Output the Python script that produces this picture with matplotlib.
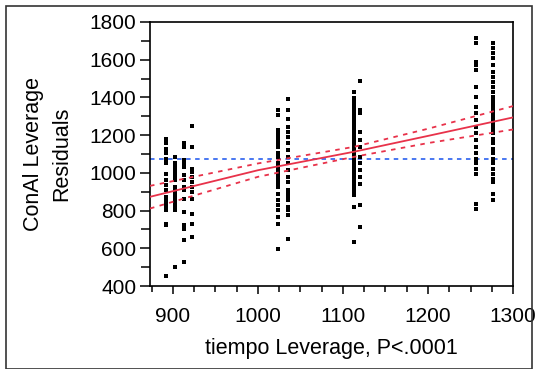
import matplotlib
matplotlib.use('Agg')
import matplotlib.pyplot as plt
import numpy as np
from matplotlib.patches import Rectangle
from matplotlib.ticker import MultipleLocator

plt.rcParams['font.family'] = ['Liberation Sans', 'DejaVu Sans']

# Leverage residuals, one column per tiempo leverage value
col_x = [892, 902, 913, 922, 1024, 1035, 1113, 1120, 1257, 1277]
col_y = [
    [1177, 1156, 1129, 1103, 1076, 1050, 996, 961, 934, 908, 873, 855, 837, 819, 802, 731, 722, 451],
    [1085, 1050, 1032, 1014, 996, 979, 961, 926, 908, 890, 873, 855, 837, 819, 802, 501],
    [1156, 1138, 1067, 1050, 1032, 988, 961, 926, 908, 864, 793, 722, 704, 642, 527],
    [1248, 1138, 1023, 1005, 979, 952, 926, 899, 864, 784, 731, 660],
    [1333, 1306, 1227, 1209, 1191, 1173, 1156, 1138, 1103, 1085, 1050, 1032, 1014, 996,
     979, 961, 943, 926, 890, 855, 828, 802, 766, 731, 598],
    [1391, 1333, 1288, 1244, 1218, 1191, 1156, 1120, 1085, 1050, 1014, 979, 952, 908,
     890, 873, 855, 819, 802, 775, 651],
    [1430, 1395, 1377, 1359, 1342, 1324, 1306, 1288, 1271, 1253, 1235, 1218, 1200, 1182,
     1165, 1147, 1129, 1112, 1094, 1076, 1058, 1041, 1023, 1005, 988, 970, 952, 934, 917,
     899, 881, 819, 634],
    [1487, 1333, 1315, 1218, 1173, 1138, 1085, 1050, 1014, 979, 943, 828, 713],
    [1713, 1687, 1589, 1572, 1545, 1457, 1404, 1350, 1315, 1280, 1244, 1209, 1173, 1138,
     1103, 1076, 1050, 1023, 996, 837, 811],
    [1687, 1660, 1634, 1607, 1572, 1536, 1510, 1483, 1457, 1430, 1404, 1386, 1368, 1350,
     1333, 1315, 1297, 1280, 1262, 1244, 1227, 1209, 1182, 1156, 1129, 1103, 1076, 1050,
     1023, 996, 970, 952, 890, 855],
]

# fitted line, confidence curves and mean reference
fit_x = [873, 1000, 1113, 1200, 1300]
fit_y = [873, 1014, 1112, 1196, 1294]
ci_upper = [931, 1050, 1138, 1234, 1354]
ci_lower = [811, 979, 1085, 1158, 1230]
mean_y = 1076

fig = plt.figure(figsize=(5.35, 3.69), dpi=100)
fig.patches.append(Rectangle((6 / 535, 0.5 / 369), 526 / 535, 363 / 369,
                             transform=fig.transFigure, fill=False,
                             edgecolor='#333333', linewidth=1.2))

ax = fig.add_axes([0.2804, 0.2249, 0.6785, 0.7155])

for x, ys in zip(col_x, col_y):
    ax.scatter([x] * len(ys), ys, marker='s', s=6, color='black', linewidths=0, zorder=3)

ax.axhline(mean_y, color='#3a6cf0', linestyle=(0, (2.5, 2.5)), linewidth=1.3, zorder=2)
ax.plot(fit_x, fit_y, color='#e8324a', linewidth=1.3, zorder=4)
ax.plot(fit_x, ci_upper, color='#e8324a', linewidth=1.3, linestyle=(0, (2.5, 3)), zorder=4)
ax.plot(fit_x, ci_lower, color='#e8324a', linewidth=1.3, linestyle=(0, (2.5, 3)), zorder=4)

ax.set_xlim(873, 1300)
ax.set_ylim(400, 1800)
ax.xaxis.set_major_locator(MultipleLocator(100))
ax.xaxis.set_minor_locator(MultipleLocator(25))
ax.yaxis.set_major_locator(MultipleLocator(200))
ax.yaxis.set_minor_locator(MultipleLocator(100))

ax.tick_params(axis='y', which='major', length=7, width=1.1, labelsize=15, pad=3)
ax.tick_params(axis='y', which='minor', length=6.5, width=1.1)
ax.tick_params(axis='x', which='major', length=6, width=1.1, labelsize=15, pad=9)
ax.tick_params(axis='x', which='minor', length=4, width=1.1)

for s in ax.spines.values():
    s.set_linewidth(1.2)

ax.set_xlabel('tiempo Leverage, P<.0001', fontsize=15.5, labelpad=9)
ax.set_ylabel('ConAl Leverage\nResiduals', fontsize=15.5, labelpad=12, linespacing=1.5)

fig.savefig('out.png', dpi=100)
